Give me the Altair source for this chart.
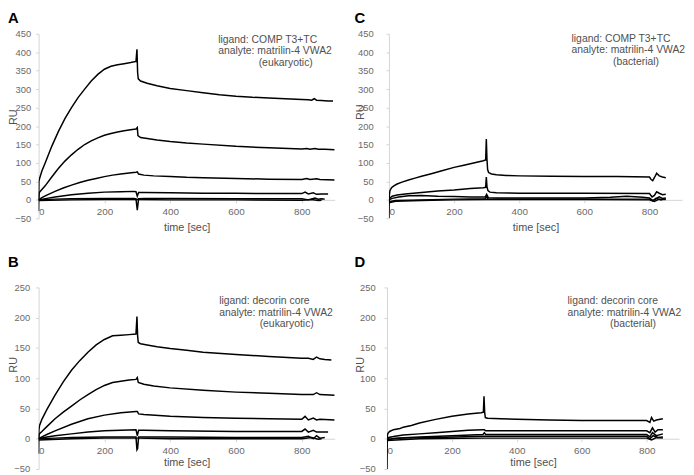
import altair as alt
import pandas as pd

FONT = "Liberation Sans"

# ---------------- Panel A : COMP T3+TC / eukaryotic VWA2 ----------------
A1_t = [0, 1, 3, 10, 20, 40, 60, 80, 100, 120, 140, 160, 180, 200, 220, 240, 260, 280, 296, 299, 301, 303, 310, 330, 360, 400, 450, 500, 550, 600, 650, 700, 750, 800, 820, 830, 838, 845, 860, 880, 895]
A1_ru = [-30, 50, 58, 78, 100, 145, 185, 220, 250, 277, 300, 322, 340, 354, 362, 366, 369, 372, 375, 408, 345, 328, 322, 316, 309, 302, 296, 290, 285, 281, 278, 276, 274, 272, 271, 270, 274, 270, 269, 268, 268]
A2_t = [0, 2, 10, 20, 40, 60, 80, 100, 120, 140, 160, 180, 200, 220, 240, 260, 280, 296, 300, 302, 310, 330, 360, 400, 450, 500, 600, 700, 800, 815, 825, 840, 850, 870, 900]
A2_ru = [0, 20, 28, 38, 62, 85, 105, 122, 137, 150, 160, 168, 175, 180, 184, 187, 190, 192, 196, 174, 169, 166, 162, 158, 154, 151, 145, 141, 138, 139, 137, 139, 137, 137, 136]
A3_t = [0, 10, 25, 50, 75, 100, 125, 150, 175, 200, 225, 250, 275, 296, 300, 304, 320, 350, 400, 450, 500, 600, 700, 800, 815, 825, 845, 855, 900]
A3_ru = [0, 6, 13, 23, 32, 40, 47, 53, 58, 63, 67, 70, 73, 75, 76, 70, 67, 65, 63, 61, 60, 58, 56, 55, 58, 55, 57, 55, 54]
A4_t = [0, 25, 50, 100, 150, 200, 250, 290, 296, 300, 304, 320, 400, 500, 600, 700, 800, 810, 820, 835, 845, 860, 880]
A4_ru = [0, 4, 8, 14, 18, 21, 22, 23, 22, 10, 20, 20, 19, 18, 18, 17, 17, 21, 16, 19, 15, 16, 16]
A5_t = [0, 50, 100, 200, 290, 296, 300, 304, 320, 400, 600, 800, 820, 840, 850, 860, 870]
A5_ru = [0, 2, 3, 4, 4, 3, -28, 3, 4, 4, 3, 3, 0, 5, 2, 3, 2]
A6_t = [0, 100, 200, 300, 400, 600, 800, 830, 850, 860]
A6_ru = [-2, 0, 1, 1, 0, 0, -1, 1, -2, -1]

# ---------------- Panel B : decorin core / eukaryotic VWA2 ----------------
B1_t = [0, 1, 3, 10, 25, 50, 75, 100, 125, 150, 175, 200, 225, 250, 275, 296, 299, 301, 303, 310, 330, 360, 400, 450, 500, 600, 700, 800, 820, 835, 845, 855, 870, 890]
B1_ru = [-25, 15, 22, 32, 48, 72, 94, 113, 129, 143, 155, 164, 170, 171, 172, 173, 202, 170, 159, 157, 155, 152, 149, 146, 143, 139, 136, 133, 133, 131, 135, 132, 131, 130]
B2_t = [0, 2, 10, 25, 50, 75, 100, 125, 150, 175, 200, 225, 250, 275, 296, 300, 303, 320, 350, 400, 500, 600, 700, 800, 835, 845, 855, 900]
B2_ru = [0, 8, 12, 20, 33, 44, 54, 64, 73, 81, 88, 93, 95, 97, 98, 101, 93, 90, 87, 84, 80, 77, 75, 73, 73, 76, 73, 72]
B3_t = [0, 10, 25, 50, 100, 150, 200, 250, 296, 300, 304, 320, 400, 500, 600, 700, 800, 810, 820, 835, 845, 855, 900]
B3_ru = [0, 3, 7, 13, 24, 33, 39, 43, 45, 45, 41, 40, 37, 35, 34, 33, 32, 37, 31, 34, 31, 32, 31]
B4_t = [0, 25, 50, 100, 150, 200, 250, 296, 300, 304, 320, 400, 600, 800, 810, 820, 835, 845, 860, 880]
B4_ru = [0, 3, 5, 8, 11, 13, 14, 15, 5, 14, 14, 13, 12, 12, 16, 11, 14, 11, 11, 11]
B5_t = [0, 50, 100, 200, 296, 299, 301, 304, 400, 600, 800, 820, 835, 845, 855, 870]
B5_ru = [0, 1, 2, 3, 3, -18, -16, 3, 3, 2, 2, 4, 0, 5, 1, 2]
B6_t = [0, 100, 200, 300, 400, 600, 800, 830, 850, 860]
B6_ru = [-2, 0, 1, 1, 0, 0, 0, 2, -1, 0]

# ---------------- Panel C : COMP T3+TC / bacterial VWA2 ----------------
C1_t = [0, 1, 3, 8, 15, 25, 40, 60, 80, 100, 130, 160, 200, 230, 260, 290, 297, 299, 301, 303, 306, 315, 330, 360, 400, 500, 600, 700, 800, 805, 810, 815, 822, 830, 840, 850]
C1_ru = [-50, 10, 25, 33, 38, 43, 48, 54, 59, 64, 71, 78, 88, 94, 100, 106, 108, 165, 110, 82, 74, 70, 68, 66, 65, 64, 63, 63, 62, 55, 52, 60, 72, 65, 62, 60]
C2_t = [0, 3, 10, 25, 50, 100, 150, 200, 250, 290, 297, 299, 301, 304, 310, 330, 400, 600, 800, 808, 815, 822, 830, 840, 850]
C2_ru = [-5, 5, 10, 13, 16, 20, 24, 27, 31, 33, 34, 62, 36, 25, 21, 19, 18, 18, 17, 8, 12, 22, 18, 14, 15]
C3_t = [0, 10, 30, 60, 100, 150, 200, 250, 296, 300, 305, 330, 400, 500, 600, 680, 730, 780, 800, 810, 820, 830, 840, 850]
C3_ru = [0, 4, 8, 11, 12, 10, 9, 8, 8, 15, 6, 5, 5, 5, 5, 7, 10, 7, 5, -2, 3, 8, 4, 5]
C4_t = [0, 20, 100, 200, 296, 300, 304, 400, 600, 800, 810, 820, 835, 850]
C4_ru = [-5, -2, 0, 2, 3, 10, 2, 2, 2, 2, -3, 4, 0, 3]
C5_t = [0, 20, 100, 200, 300, 400, 600, 800, 815, 830, 850]
C5_ru = [-8, -4, -2, 0, 1, 1, 1, 0, -4, 2, 1]

# ---------------- Panel D : decorin core / bacterial VWA2 ----------------
D1_t = [0, 1, 3, 8, 20, 40, 45, 50, 75, 100, 150, 200, 250, 290, 297, 299, 301, 303, 310, 350, 400, 500, 600, 700, 800, 810, 815, 822, 830, 850]
D1_ru = [-50, 5, 9, 12, 15, 17, 18, 19, 22, 26, 32, 37, 41, 43, 44, 70, 44, 35, 34, 33, 32, 31, 30, 30, 30, 27, 35, 29, 31, 33]
D2_t = [0, 5, 25, 50, 100, 150, 200, 250, 296, 300, 304, 330, 400, 600, 800, 810, 818, 826, 835, 850]
D2_ru = [-3, 2, 4, 6, 8, 10, 12, 14, 15, 15, 13, 13, 13, 13, 13, 10, 18, 11, 15, 15]
D3_t = [0, 25, 100, 200, 296, 300, 304, 400, 600, 800, 810, 818, 830, 850]
D3_ru = [-2, 1, 3, 5, 7, 10, 7, 7, 7, 7, 3, 10, 5, 8]
D4_t = [0, 50, 150, 300, 400, 600, 800, 810, 820, 835, 850]
D4_ru = [-1, 1, 2, 4, 4, 4, 4, 0, 5, 2, 3]
D5_t = [0, 100, 300, 500, 800, 815, 830, 850]
D5_ru = [-3, 0, 1, 1, 1, -2, 2, 1]

X_TICKS = [0, 200, 400, 600, 800]
TEXT_A = ["ligand: COMP T3+TC", "analyte: matrilin-4 VWA2", "(eukaryotic)"]
TEXT_B = ["ligand: decorin core", "analyte: matrilin-4 VWA2", "(eukaryotic)"]
TEXT_C = ["ligand: COMP T3+TC", "analyte: matrilin-4 VWA2", "(bacterial)"]
TEXT_D = ["ligand: decorin core", "analyte: matrilin-4 VWA2", "(bacterial)"]


def frame(series):
    rows = []
    for k, (ts, rs) in enumerate(series):
        for i, (t, r) in enumerate(zip(ts, rs)):
            rows.append({"t": t, "ru": r, "s": k, "i": i})
    return pd.DataFrame(rows)


def panel(series, letter, texts, ymax, height, width, title_offset,
          ru_x, ru_y, label_pad, xtitle_pad, tx, ty, tx3):
    ymin = -50
    df = frame(series)
    px_per = height / (ymax - ymin)
    lines = alt.Chart(df).mark_line(color="black", strokeWidth=1.5, clip=True).encode(
        x=alt.X("t:Q", scale=alt.Scale(domain=[0, 900], nice=False),
                axis=alt.Axis(values=X_TICKS, title="time [sec]", offset=-50 * px_per,
                              grid=False, domainColor="#d4d4d4", tickColor="#d4d4d4",
                              tickSize=3, labelPadding=4, labelFontSize=10,
                              labelColor="#6a6a6a", titleFontSize=11,
                              titleFontWeight="normal", titleColor="#505050",
                              titlePadding=xtitle_pad, labelFont=FONT, titleFont=FONT)),
        y=alt.Y("ru:Q", scale=alt.Scale(domain=[ymin, ymax], nice=False),
                axis=alt.Axis(values=list(range(ymin, ymax + 1, 50)), title="RU",
                              grid=False, domainColor="#d4d4d4", tickColor="#d4d4d4",
                              tickSize=3, labelPadding=label_pad, labelFontSize=9.5,
                              labelColor="#6a6a6a", titleFontSize=11,
                              titleFontWeight="normal", titleColor="#505050",
                              titleX=ru_x, titleY=ru_y, labelFont=FONT, titleFont=FONT)),
        detail="s:N",
        order="i:Q",
    )
    layers = [lines]
    pos = [(tx, ty), (tx, ty + 11.7), (tx3, ty + 23.2)]
    for txt, (x, y) in zip(texts, pos):
        layers.append(
            alt.Chart(alt.Data(values=[{}])).mark_text(
                align="left", baseline="middle", fontSize=10.5, font=FONT, color="#505050"
            ).encode(x=alt.value(x), y=alt.value(y), text=alt.value(txt))
        )
    return alt.layer(*layers).properties(
        width=width, height=height,
        title=alt.TitleParams(letter, anchor="start", fontSize=15, fontWeight="bold",
                              font=FONT, color="black", offset=title_offset, frame="bounds"),
    )


pA = panel([(A1_t, A1_ru), (A2_t, A2_ru), (A3_t, A3_ru), (A4_t, A4_ru), (A5_t, A5_ru), (A6_t, A6_ru)],
           "A", TEXT_A, 450, 187, 300, 3, -20, 84, 5, 5, 182, 6, 223)
pC = panel([(C1_t, C1_ru), (C2_t, C2_ru), (C3_t, C3_ru), (C4_t, C4_ru), (C5_t, C5_ru)],
           "C", TEXT_C, 450, 187, 297, 3, -24, 79, 13, 5, 185, 5, 227)
pB = panel([(B1_t, B1_ru), (B2_t, B2_ru), (B3_t, B3_ru), (B4_t, B4_ru), (B5_t, B5_ru), (B6_t, B6_ru)],
           "B", TEXT_B, 250, 184, 300, 13, -20, 78, 6, 1, 183, 14, 224)
pD = panel([(D1_t, D1_ru), (D2_t, D2_ru), (D3_t, D3_ru), (D4_t, D4_ru), (D5_t, D5_ru)],
           "D", TEXT_D, 250, 184, 296, 13, -22, 78, 9, 1, 183, 14, 226)

top = alt.hconcat(pA, pC, spacing=20)
bottom = alt.hconcat(pB, pD, spacing=20)
chart = alt.vconcat(top, bottom, spacing=22).properties(padding=0).configure_view(stroke=None)

chart.save("out.html", embed_options={"renderer": "svg", "actions": False})
